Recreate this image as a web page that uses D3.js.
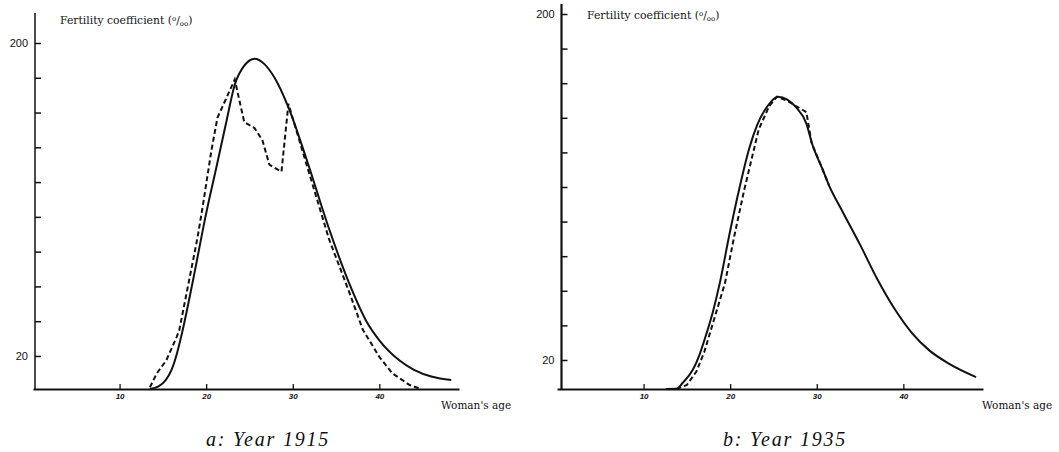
<!DOCTYPE html>
<html>
<head>
<meta charset="utf-8">
<script src="https://cdn.jsdelivr.net/npm/d3@7"></script>
<style>
  body { margin: 0; background: #fff; }
</style>
</head>
<body>
<svg id="chart" width="1059" height="452"></svg>
<script>
// 1915: fitted curve (solid) and observed rates (dashed)
const ageFit1915 = [13.5, 14.5, 15.3, 16.0, 16.6, 17.2, 18.5, 20.0, 21.2, 22.3, 23.3, 24.4, 25.6, 26.7, 27.9, 29.5, 31.6, 34.2, 36.5, 38.5, 40.0, 42.3, 44.0, 46.1, 48.3];
const rateFit1915 = [0, 2.5, 6, 12, 21, 33, 64, 102, 129, 154, 176, 187, 191, 188, 180, 163, 133, 93, 62, 40, 29, 17.5, 12, 8, 6.2];
const ageObs1915 = [13.5, 14.3, 15.4, 16.6, 16.9, 19.0, 19.6, 20.6, 21.3, 23.3, 24.4, 25.6, 26.5, 27.3, 28.7, 29.5, 31.6, 34.2, 36.5, 38.1, 40.0, 41.5, 43.5, 44.8];
const rateObs1915 = [2, 10, 17.5, 31, 35, 88, 106, 138, 157, 179, 154.5, 151, 144, 130, 126, 165, 130, 87, 57, 35, 19.5, 10, 3.3, 0];

// 1935
const ageFit1935 = [12.6, 13.8, 14.5, 15.7, 16.4, 17.0, 18.0, 18.8, 19.9, 21.1, 22.2, 23.1, 24.3, 25.5, 26.6, 27.6, 28.8, 29.5, 30.6, 31.4, 33.0, 35.0, 37.0, 39.0, 41.0, 43.0, 45.3, 48.4];
const rateFit1935 = [0, 5, 8, 15, 22, 30, 45, 60, 85, 110, 130, 142, 152, 157, 155.5, 151.5, 143, 132, 120, 111, 97, 80, 62, 46.5, 34, 25, 18, 11.1];
const ageObs1935 = [13.8, 15.0, 16.1, 17.0, 17.6, 19.4, 20.5, 21.6, 23.3, 24.5, 25.4, 26.5, 28.8, 29.4, 30.6, 31.4];
const rateObs1935 = [0, 7, 14, 24, 33, 60, 85, 108, 140, 152, 157, 155, 149, 133, 120, 111];

const xTicks = [10, 20, 30, 40];
const yTicks1915 = [20, 40, 60, 80, 100, 120, 140, 160, 180, 200];
const yTicks1935 = [20, 38, 56, 74, 92, 110, 128, 146, 164, 182, 200];
const yLabels = [200, 20];

const svg = d3.select('#chart');
const ink = '#111';
const labelFont = 'DejaVu Serif, serif';

const drawPanel = p => {
  const g = svg.append('g');
  const x = d3.scaleLinear().domain([0, 49.2]).range(p.xRange);
  const y = d3
    .scaleLinear()
    .domain(p.yDomain)
    .range(p.yRange)
    .clamp(true);
  const base = p.yRange[0];

  // vertical axis
  g.append('line')
    .attr('x1', p.axisX)
    .attr('x2', p.axisX)
    .attr('y1', p.axisTop)
    .attr('y2', base)
    .attr('stroke', ink)
    .attr('stroke-width', p.axisWidth);

  g.append('g')
    .attr('transform', `translate(${p.axisX},0)`)
    .call(
      d3
        .axisRight(y)
        .tickValues(p.yTicks)
        .tickSize(6)
        .tickFormat('')
    )
    .call(a => a.select('.domain').remove())
    .call(a => a.selectAll('line').attr('stroke', ink).attr('stroke-width', 1.5));

  g.selectAll('.ylab')
    .data(yLabels)
    .join('text')
    .attr('x', p.axisX - 7)
    .attr('y', d => y(d) + 4)
    .attr('text-anchor', 'end')
    .style('font-family', 'Liberation Sans, Arial, sans-serif')
    .style('font-size', '11px')
    .attr('fill', ink)
    .text(d => d);

  // horizontal axis
  g.append('g')
    .attr('transform', `translate(0,${base})`)
    .call(
      d3
        .axisBottom(x)
        .tickValues(xTicks)
        .tickSizeInner(-5)
        .tickSizeOuter(0)
        .tickPadding(4)
    )
    .call(a => a.select('.domain').attr('stroke', ink).attr('stroke-width', 1.8))
    .call(a => a.selectAll('line').attr('stroke', ink).attr('stroke-width', 1.3))
    .call(a =>
      a
        .selectAll('text')
        .attr('fill', ink)
        .style('font-family', 'Liberation Sans, Arial, sans-serif')
        .style('font-size', '8px')
        .style('font-style', 'italic')
        .style('font-weight', 'bold')
    );

  const line = d3
    .line()
    .x(d => x(d[0]))
    .y(d => y(d[1]));

  g.append('path')
    .datum(d3.zip(p.ageFit, p.rateFit))
    .attr('d', line.curve(d3.curveMonotoneX))
    .attr('fill', 'none')
    .attr('stroke', ink)
    .attr('stroke-width', 2);

  g.append('path')
    .datum(d3.zip(p.ageObs, p.rateObs))
    .attr('d', line.curve(d3.curveLinear))
    .attr('fill', 'none')
    .attr('stroke', ink)
    .attr('stroke-width', 2)
    .attr('stroke-dasharray', '5,3');

  // titles
  const title = g
    .append('text')
    .attr('x', p.titleX)
    .attr('y', p.titleY)
    .style('font-family', labelFont)
    .style('font-size', '10.8px')
    .attr('fill', ink)
    .text('Fertility coefficient (');
  title.append('tspan').attr('dy', -3).style('font-size', '7px').text('o');
  title.append('tspan').attr('dy', 3).text('/');
  title.append('tspan').attr('dy', 2).style('font-size', '7px').text('oo');
  title.append('tspan').attr('dy', -2).text(')');

  g.append('text')
    .attr('x', p.ageX)
    .attr('y', 409)
    .style('font-family', labelFont)
    .style('font-size', '10.5px')
    .attr('fill', ink)
    .text("Woman's age");

  g.append('text')
    .attr('x', p.capX)
    .attr('y', 446)
    .attr('text-anchor', 'middle')
    .style('font-family', 'Liberation Serif, serif')
    .style('font-size', '20px')
    .style('font-style', 'italic')
    .style('letter-spacing', '1.8px')
    .attr('fill', ink)
    .text(p.caption);
};

drawPanel({
  xRange: [33, 459],
  axisX: 35,
  axisTop: 13,
  axisWidth: 1.5,
  yDomain: [1, 200],
  yRange: [389, 43],
  yTicks: yTicks1915,
  ageFit: ageFit1915,
  rateFit: rateFit1915,
  ageObs: ageObs1915,
  rateObs: rateObs1915,
  titleX: 60,
  titleY: 24,
  ageX: 441,
  capX: 268,
  caption: 'a:  Year  1915'
});

drawPanel({
  xRange: [557, 983],
  axisX: 561.5,
  axisTop: 4,
  axisWidth: 2.2,
  yDomain: [4.9, 200],
  yRange: [389, 14],
  yTicks: yTicks1935,
  ageFit: ageFit1935,
  rateFit: rateFit1935,
  ageObs: ageObs1935,
  rateObs: rateObs1935,
  titleX: 587,
  titleY: 19,
  ageX: 982,
  capX: 785,
  caption: 'b:  Year  1935'
});
</script>
</body>
</html>
